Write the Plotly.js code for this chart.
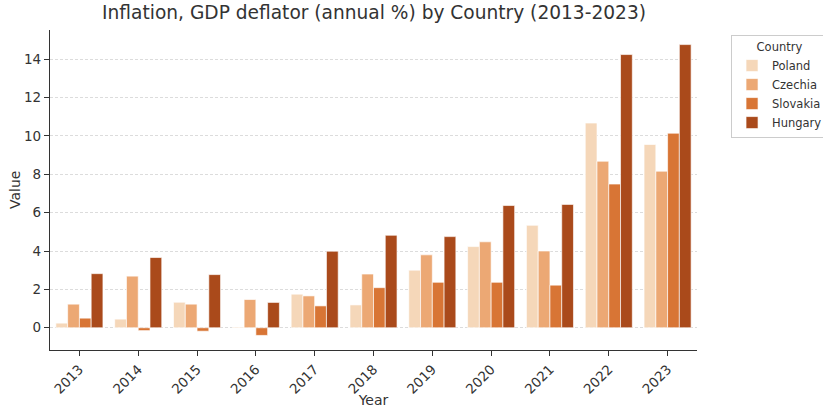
<!DOCTYPE html>
<html>
<head>
<meta charset="utf-8">
<script src="https://cdn.plot.ly/plotly-3.0.1.min.js"></script>
<style>html,body{margin:0;padding:0;background:#fff}#chart{width:823px;height:408px}</style>
</head>
<body>
<div id="chart"></div>
<script>
var years = ["2013","2014","2015","2016","2017","2018","2019","2020","2021","2022","2023"];
var poland   = [0.24, 0.45, 1.33, 0.04, 1.75, 1.19, 3.00, 4.23, 5.34, 10.67, 9.55];
var czechia  = [1.23, 2.69, 1.23, 1.47, 1.66, 2.80, 3.80, 4.48, 4.00, 8.68, 8.16];
var slovakia = [0.50, -0.15, -0.18, -0.40, 1.14, 2.09, 2.37, 2.37, 2.22, 7.49, 10.14];
var hungary  = [2.82, 3.66, 2.77, 1.32, 3.99, 4.82, 4.75, 6.37, 6.43, 14.24, 14.76];
var countries = ["Poland","Czechia","Slovakia","Hungary"];
var colors = ["#f5d7b9","#eca874","#d87535","#aa4a1b"];
var series = [poland, czechia, slovakia, hungary];

var traces = series.map(function(vals, i){
  return {
    type: "bar", name: countries[i], x: years, y: vals,
    marker: {color: colors[i], line: {color: "rgba(255,255,255,0.8)", width: 0.8}},
    hoverinfo: "x+y+name"
  };
});

var font = {family: "DejaVu Sans, sans-serif", color: "#333"};
var layout = {
  width: 823, height: 408,
  margin: {l: 50, r: 126, t: 30, b: 58, autoexpand: false},
  paper_bgcolor: "#fff", plot_bgcolor: "#fff",
  barmode: "group", bargap: 0.2, bargroupgap: 0,
  font: font,
  title: {text: "Inflation, GDP deflator (annual %) by Country (2013-2023)", font: {family: font.family, size: 18.6, color: "#333"}, x: 0.4545, xanchor: "center", y: 0.985, yanchor: "top"},
  xaxis: {
    type: "category", range: [-0.5, 10.5],
    title: {text: "Year", font: {size: 14, color: "#333"}, standoff: 4},
    tickangle: -45, tickfont: {size: 13.5, color: "#333"},
    showline: true, linecolor: "#333", linewidth: 1.2,
    ticks: "outside", ticklen: 5, tickcolor: "#333",
    showgrid: false, zeroline: false
  },
  yaxis: {
    range: [-1.16, 15.52],
    tickvals: [0,2,4,6,8,10,12,14],
    tickfont: {size: 13.5, color: "#333"},
    showline: true, linecolor: "#333", linewidth: 1.2,
    ticks: "outside", ticklen: 5, tickcolor: "#333",
    showgrid: true, gridcolor: "#d3d3d3", griddash: "3px,2px", gridwidth: 0.8,
    zeroline: false
  },
  annotations: [{
    text: "Value", xref: "paper", yref: "paper", x: 0, y: 0.5,
    xanchor: "center", yanchor: "middle", xshift: -35, textangle: -90,
    showarrow: false, font: {size: 14, color: "#333"}
  }],
  legend: {
    x: 1.0526, xanchor: "left", y: 0.984, yanchor: "top",
    title: {text: "Country", font: {size: 11.5, color: "#333"}, side: "top center"},
    font: {size: 11.5, color: "#333"},
    bordercolor: "#ccc", borderwidth: 1, bgcolor: "#fff",
    tracegroupgap: 0, itemwidth: 30
  },
  showlegend: true
};
Plotly.newPlot("chart", traces, layout, {displayModeBar: false, staticPlot: true});
</script>
</body>
</html>
